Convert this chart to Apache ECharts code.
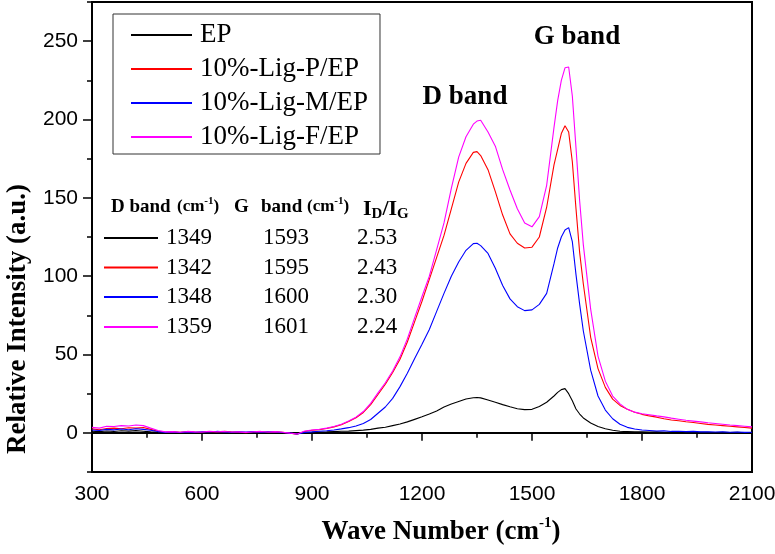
<!DOCTYPE html>
<html><head><meta charset="utf-8">
<script src="https://cdn.jsdelivr.net/npm/echarts@6/dist/echarts.min.js"></script>
<style>html,body{margin:0;padding:0;background:#fff}#c{width:775px;height:554px}</style>
</head><body><div id="c"></div>
<script>
const waveNumbers = [300,320,340,360,380,400,420,440,460,480,500,520,540,560,580,600,620,640,660,680,700,720,740,760,780,800,820,840,860,880,900,920,940,960,980,1000,1020,1040,1060,1080,1100,1120,1140,1160,1180,1200,1220,1240,1260,1280,1300,1320,1340,1350,1360,1380,1400,1420,1440,1460,1480,1500,1520,1540,1560,1570,1580,1590,1600,1610,1620,1630,1640,1660,1680,1700,1720,1740,1760,1780,1800,1820,1840,1860,1880,1900,1920,1940,1960,1980,2000,2020,2040,2060,2080,2100];

const epValues = [1.0,0.8,1.2,0.9,1.3,1.1,1.4,1.0,
 0.6,0.4,0.2,0.3,0.1,0.4,0.2,0.3,0.5,0.2,0.4,0.1,0.3,
 0.2,0.4,0.1,0.3,0.2,0.0,-0.3,-0.6,0.1,
 0.3,0.5,0.6,0.8,1.0,1.1,1.4,1.7,2.2,3.0,
 3.6,4.6,5.6,7.0,8.6,10.2,12.0,14.0,16.5,18.4,20.0,21.6,22.4,
 22.6,
 22.3,21.0,19.5,18.0,16.6,15.4,14.8,15.0,16.8,19.5,23.5,
 25.8,27.6,28.2,25.0,20.5,15.2,12.0,9.5,
 6.3,4.0,2.6,1.6,1.0,0.8,0.6,0.7,0.5,0.6,0.4,0.5,0.3,0.5,0.4,0.3,0.4,0.2,0.3,0.2,0.3,0.1,0.2];

const ligPValues = [2.5,2.0,2.8,3.0,2.6,3.2,3.0,3.4,
 2.2,1.0,0.4,0.6,0.3,0.7,0.5,0.4,0.8,0.5,0.9,0.6,0.4,
 0.1,0.5,0.7,0.4,0.6,0.3,-0.3,-0.8,0.9,
 1.6,2.0,2.8,3.8,5.2,7.2,9.6,13.0,18.0,24.5,
 31.0,38.5,47.0,58.0,71.0,84.0,98.0,112.0,126.0,143.0,160.0,172.0,179.0,
 179.5,
 177.0,168.0,154.0,139.0,127.0,121.0,118.0,118.5,125.0,144.0,171.0,
 181.0,191.0,196.0,192.0,173.0,143.0,115.0,95.0,
 61.0,41.0,29.0,21.5,17.5,15.0,13.2,11.8,10.8,10.0,9.0,8.2,7.7,7.1,6.6,6.0,5.4,5.0,4.6,4.2,3.8,3.4,3.0];

const ligMValues = [1.8,1.5,2.2,1.9,2.4,2.0,2.6,2.2,
 1.6,0.8,0.3,0.5,0.2,0.6,0.4,0.7,0.5,0.9,0.6,0.4,0.7,
 0.5,0.8,0.4,0.6,0.5,0.2,-0.2,-0.7,0.3,
 0.6,1.0,1.3,1.8,2.5,3.3,4.4,6.0,8.5,12.5,
 16.5,22.0,29.5,38.0,47.5,56.5,66.0,77.5,89.0,100.0,109.0,116.5,120.8,
 121.0,
 119.5,114.5,105.0,94.0,85.5,80.5,78.0,78.5,82.0,89.0,108.0,
 118.0,125.0,129.5,131.0,122.0,101.0,82.0,65.0,
 40.0,23.5,14.5,9.0,5.5,3.5,2.4,1.8,1.5,1.2,1.3,0.9,1.0,0.8,0.9,0.6,0.7,0.5,0.6,0.4,0.5,0.3,0.4];

const ligFValues = [3.5,3.0,4.2,4.0,4.6,4.4,5.0,4.6,
 3.0,1.5,0.6,0.8,0.4,0.9,0.6,0.5,1.0,0.7,0.9,0.5,0.6,
 0.3,0.7,0.9,0.5,0.8,0.4,-0.2,-0.7,1.2,
 1.8,2.3,3.0,4.0,5.5,7.5,10.0,13.6,18.8,25.5,
 32.0,39.5,48.5,60.0,73.5,87.0,100.0,117.0,134.0,156.0,176.0,189.0,197.0,
 199.0,
 199.5,192.0,183.0,168.0,155.0,143.0,134.0,131.5,138.0,158.0,195.0,
 212.0,225.0,233.0,233.5,215.0,182.0,148.0,120.0,
 79.0,49.0,33.0,23.5,18.5,15.0,13.2,12.2,11.5,10.8,10.2,9.4,8.7,8.0,7.5,7.0,6.4,6.0,5.5,5.0,4.6,4.2,3.8];

const seriesNames = ['EP', '10%-Lig-P/EP', '10%-Lig-M/EP', '10%-Lig-F/EP'];
const seriesColors = ['#000000', '#ff0000', '#0000ff', '#ff00ff'];
const yMajorTicks = [0, 50, 100, 150, 200, 250];
const tableDBand = ['1349', '1342', '1348', '1359'];
const tableGBand = ['1593', '1595', '1600', '1601'];
const tableRatio = ['2.53', '2.43', '2.30', '2.24'];

const allValues = [epValues, ligPValues, ligMValues, ligFValues];
const SERIF = 'Liberation Serif';
const SANS = 'Liberation Sans';

const series = allValues.map((vals, k) => ({
  name: seriesNames[k],
  type: 'line',
  symbol: 'none',
  smooth: false,
  lineStyle: { color: seriesColors[k], width: 1.1 },
  itemStyle: { color: seriesColors[k] },
  data: waveNumbers.map((x, i) => [x, vals[i]])
}));

const graphics = [];
// inset table header
const hdrY = 207;
const hb = { fontFamily: SERIF, fontWeight: 'bold', fontSize: 19, fill: '#000' };
const unitRich = {
  p: { fontFamily: SERIF, fontWeight: 'bold', fontSize: 17, fill: '#000', lineHeight: 22 },
  s: { fontFamily: SERIF, fontWeight: 'bold', fontSize: 11, fill: '#000', lineHeight: 22, verticalAlign: 'top' }
};
graphics.push({ type: 'text', x: 111, y: hdrY, style: Object.assign({ text: 'D band', verticalAlign: 'middle' }, hb) });
graphics.push({ type: 'text', x: 177, y: hdrY, style: { text: '{p|(cm}{s|-1}{p|)}', rich: unitRich, verticalAlign: 'middle' } });
graphics.push({ type: 'text', x: 234, y: hdrY, style: Object.assign({ text: 'G', verticalAlign: 'middle' }, hb) });
graphics.push({ type: 'text', x: 261, y: hdrY, style: Object.assign({ text: 'band', verticalAlign: 'middle' }, hb) });
graphics.push({ type: 'text', x: 307, y: hdrY, style: { text: '{p|(cm}{s|-1}{p|)}', rich: unitRich, verticalAlign: 'middle' } });
graphics.push({ type: 'text', x: 363, y: hdrY + 2, style: {
  text: '{b|I}{d|D}{b|/I}{d|G}', verticalAlign: 'middle',
  rich: {
    b: { fontFamily: SERIF, fontWeight: 'bold', fontSize: 22, fill: '#000', lineHeight: 26 },
    d: { fontFamily: SERIF, fontWeight: 'bold', fontSize: 15, fill: '#000', lineHeight: 26, verticalAlign: 'bottom' }
  }
} });
// inset table rows
const rowY = [238, 267.5, 297, 327];
for (let i = 0; i < 4; i++) {
  graphics.push({ type: 'line', shape: { x1: 104, y1: rowY[i], x2: 158, y2: rowY[i] }, style: { stroke: seriesColors[i], lineWidth: 2 } });
  const ts = { fontFamily: SERIF, fontSize: 23, fill: '#000', verticalAlign: 'middle' };
  graphics.push({ type: 'text', x: 166, y: rowY[i], style: Object.assign({ text: tableDBand[i] }, ts) });
  graphics.push({ type: 'text', x: 263, y: rowY[i], style: Object.assign({ text: tableGBand[i] }, ts) });
  graphics.push({ type: 'text', x: 357, y: rowY[i], style: Object.assign({ text: tableRatio[i] }, ts) });
}
// band labels
graphics.push({ type: 'text', x: 465, y: 97, style: { text: 'D band', fontFamily: SERIF, fontWeight: 'bold', fontSize: 27, fill: '#000', align: 'center', verticalAlign: 'middle' } });
graphics.push({ type: 'text', x: 577, y: 37, style: { text: 'G band', fontFamily: SERIF, fontWeight: 'bold', fontSize: 27, fill: '#000', align: 'center', verticalAlign: 'middle' } });
// axis titles
graphics.push({ type: 'text', x: 18, y: 319, rotation: Math.PI / 2, style: { text: 'Relative Intensity (a.u.)', fontFamily: SERIF, fontWeight: 'bold', fontSize: 27, fill: '#000', align: 'center', verticalAlign: 'middle' } });
graphics.push({ type: 'text', x: 441, y: 532, style: {
  text: '{p|Wave Number (cm}{s|-1}{p|)}', align: 'center', verticalAlign: 'middle',
  rich: {
    p: { fontFamily: SERIF, fontWeight: 'bold', fontSize: 27, fill: '#000', lineHeight: 32 },
    s: { fontFamily: SERIF, fontWeight: 'bold', fontSize: 15, fill: '#000', lineHeight: 32, verticalAlign: 'top' }
  }
} });

const axisLineStyle = { color: '#000', width: 2 };
const plainNum = v => String(v);
const chart = echarts.init(document.getElementById('c'), null, { renderer: 'canvas' });
chart.setOption({
  animation: false,
  backgroundColor: '#fff',
  grid: { left: 92, right: 23, top: 2, bottom: 82, show: true, borderColor: '#000', borderWidth: 2, backgroundColor: 'transparent', containLabel: false, outerBoundsMode: 'none' },
  legend: {
    orient: 'vertical', left: 113, top: 14,
    data: seriesNames,
    icon: 'rect', itemWidth: 61, itemHeight: 2, itemGap: 4,
    padding: [6, 12, 2, 18],
    borderColor: '#333', borderWidth: 1,
    textStyle: { fontFamily: SERIF, fontSize: 27, color: '#000', lineHeight: 30, padding: [0, 0, 0, 3] }
  },
  xAxis: {
    type: 'value', min: 300, max: 2100, interval: 300,
    axisLine: { lineStyle: axisLineStyle },
    axisTick: { length: 8, lineStyle: { color: '#000', width: 1.5 } },
    minorTick: { show: true, splitNumber: 2, length: 5, lineStyle: { color: '#000', width: 1.5 } },
    axisLabel: { fontFamily: SANS, fontSize: 21, color: '#000', margin: 12, formatter: plainNum },
    splitLine: { show: false }, minorSplitLine: { show: false }
  },
  yAxis: [
    {
      type: 'value', min: -25, max: 275, interval: 25, position: 'left',
      axisLine: { show: true, lineStyle: axisLineStyle },
      axisTick: { show: true, length: 5, lineStyle: { color: '#000', width: 1.5 } },
      axisLabel: { show: false },
      splitLine: { show: false }
    },
    {
      type: 'value', min: -25, max: 275, position: 'left',
      axisLine: { show: true, lineStyle: axisLineStyle },
      axisTick: { show: true, length: 9, customValues: yMajorTicks, lineStyle: { color: '#000', width: 1.5 } },
      axisLabel: { customValues: yMajorTicks, fontFamily: SANS, fontSize: 21, color: '#000', margin: 14, formatter: plainNum },
      splitLine: { show: false }
    }
  ],
  series: series,
  graphic: graphics
});
</script>
</body></html>
